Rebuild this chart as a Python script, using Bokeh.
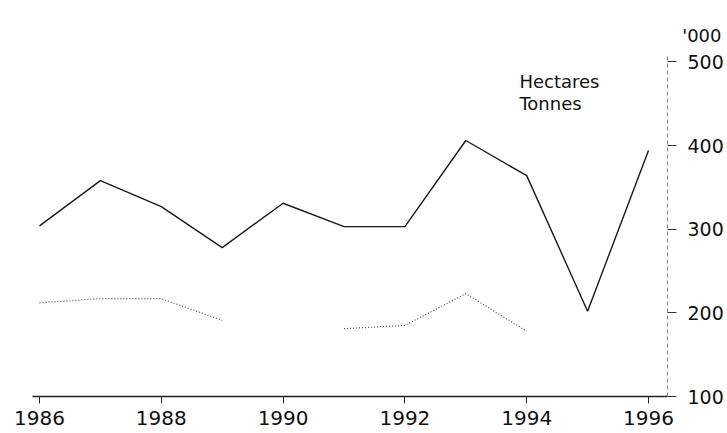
import math
from bokeh.plotting import figure
from bokeh.models import FixedTicker, Label, Range1d
from bokeh.embed import file_html
from bokeh.resources import INLINE

years = [1986, 1987, 1988, 1989, 1990, 1991, 1992, 1993, 1994, 1995, 1996]
hectares = [304, 358, 327, 278, 331, 303, 303, 406, 364, 202, 394]
tonnes = [212, 217, 217, 191, math.nan, 181, 185, 223, 178, math.nan, math.nan]
x_ticks = [1986, 1988, 1990, 1992, 1994, 1996]
y_ticks = [100, 200, 300, 400, 500]
series_names = ["Hectares", "Tonnes"]
unit_label = "'000"

FONT = "DejaVu Sans"

p = figure(width=727, height=433, output_backend="svg", toolbar_location=None,
           y_axis_location="right", title=unit_label,
           x_range=Range1d(1985.885, 1996.312), y_range=Range1d(100, 510),
           min_border_left=32, min_border_right=60, min_border_top=53, min_border_bottom=37)
p.outline_line_color = None
p.xgrid.grid_line_color = None
p.ygrid.grid_line_color = None
p.background_fill_color = "white"
p.border_fill_color = "white"

p.title.align = "right"
p.title.offset = -54
p.title.standoff = 16
p.title.text_font = FONT
p.title.text_font_size = "18px"
p.title.text_font_style = "normal"
p.title.text_color = "#111111"

p.line(years, hectares, line_color="#1a1a1a", line_width=1.4)
p.line(years, tonnes, line_color="#555555", line_width=1.2, line_dash="1 2")

xa = p.xaxis[0]
xa.ticker = FixedTicker(ticks=x_ticks)
xa.axis_line_color = "#222222"
xa.axis_line_width = 1.4
xa.major_tick_line_color = "#222222"
xa.major_tick_out = 7
xa.major_tick_in = 0
xa.minor_tick_line_color = None
xa.major_label_standoff = 7
xa.major_label_text_font = FONT
xa.major_label_text_font_size = "20px"
xa.major_label_text_color = "#111111"

ya = p.yaxis[0]
ya.ticker = FixedTicker(ticks=y_ticks)
ya.axis_line_color = "#888888"
ya.axis_line_dash = "4 3"
ya.axis_line_width = 1
ya.major_tick_line_color = "#333333"
ya.major_tick_out = 9
ya.major_tick_in = 0
ya.minor_tick_line_color = None
ya.major_label_standoff = 11
ya.major_label_text_font = FONT
ya.major_label_text_font_size = "19px"
ya.major_label_text_color = "#111111"

p.add_layout(Label(x=1993.88, y=476, text=series_names[0], text_font=FONT,
                   text_font_size="18px", text_color="#111111", text_baseline="alphabetic"))
p.add_layout(Label(x=1993.88, y=450, text=series_names[1], text_font=FONT,
                   text_font_size="18px", text_color="#111111", text_baseline="alphabetic"))

open("out.html", "w").write(file_html(p, INLINE))
